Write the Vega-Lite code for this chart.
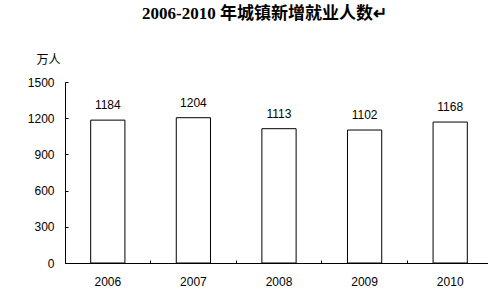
{
  "$schema": "https://vega.github.io/schema/vega-lite/v6.json",
  "width": 423,
  "height": 181,
  "autosize": "none",
  "padding": {"left": 65, "top": 82, "right": 0, "bottom": 33},
  "background": "white",
  "title": {
    "text": "2006-2010 年城镇新增就业人数↵",
    "font": "Liberation Serif, Noto Sans CJK SC",
    "fontSize": 17,
    "fontWeight": "bold",
    "color": "#000000",
    "anchor": "middle",
    "frame": "group",
    "dx": -12,
    "offset": 30
  },
  "data": {
    "values": [
      {"year": "2006", "value": 1184},
      {"year": "2007", "value": 1204},
      {"year": "2008", "value": 1113},
      {"year": "2009", "value": 1102},
      {"year": "2010", "value": 1168}
    ]
  },
  "config": {
    "view": {"stroke": null},
    "axis": {
      "domainColor": "#000000",
      "tickColor": "#000000",
      "labelColor": "#000000",
      "labelFont": "Liberation Sans",
      "labelFontSize": 12,
      "grid": false
    }
  },
  "encoding": {
    "x": {
      "field": "year",
      "type": "ordinal",
      "scale": {"range": [0, 428], "paddingInner": 0, "paddingOuter": 0},
      "axis": {
        "title": null,
        "labelAngle": 0,
        "bandPosition": 0,
        "tickSize": -3,
        "labelPadding": 16,
        "labelBaseline": "top"
      }
    },
    "y": {
      "field": "value",
      "type": "quantitative",
      "scale": {"domain": [0, 1500], "nice": false},
      "axis": {
        "values": [0, 300, 600, 900, 1200, 1500],
        "format": "d",
        "tickSize": -3,
        "labelPadding": 14,
        "title": "万人",
        "titleAngle": 0,
        "titleX": -17,
        "titleY": -23,
        "titleAlign": "center",
        "titleBaseline": "middle",
        "titleFont": "Noto Sans CJK SC",
        "titleFontSize": 12,
        "titleFontWeight": "normal",
        "titleColor": "#000000"
      }
    }
  },
  "layer": [
    {
      "mark": {"type": "bar", "fill": "white", "stroke": "black", "strokeWidth": 1, "width": {"band": 0.4}}
    },
    {
      "mark": {"type": "text", "baseline": "bottom", "dy": -8, "font": "Liberation Sans", "fontSize": 12, "color": "#000000"},
      "encoding": {"text": {"field": "value", "type": "quantitative"}}
    }
  ]
}
